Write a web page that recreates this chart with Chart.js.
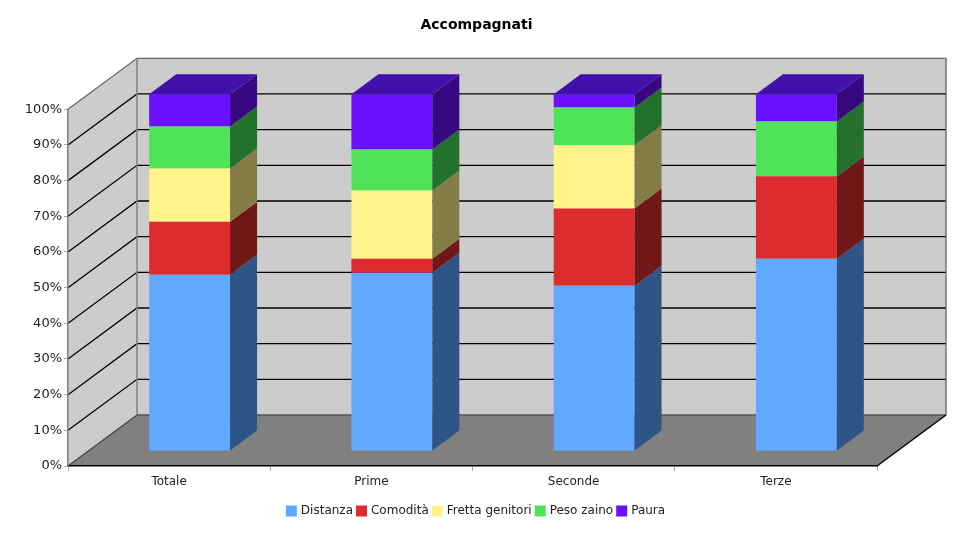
<!DOCTYPE html>
<html>
<head>
<meta charset="utf-8">
<title>Accompagnati</title>
<script src="https://cdn.jsdelivr.net/npm/chart.js@4/dist/chart.umd.min.js"></script>
<style>
  html, body { margin: 0; padding: 0; background: #fff; }
  canvas { display: block; }
</style>
</head>
<body>
<canvas id="statsChart" width="973" height="537"></canvas>
<script>
const categories = ['Totale', 'Prime', 'Seconde', 'Terze'];
const seriesNames = ['Distanza', 'Comodità', 'Fretta genitori', 'Peso zaino', 'Paura'];

const distanza = [49.4, 50.0, 46.3, 53.9];
const comodita = [14.9, 3.9, 21.7, 23.1];
const fretta = [14.9, 19.1, 17.7, 0];
const peso = [11.8, 11.5, 10.6, 15.4];
const paura = [9.0, 15.5, 3.7, 7.6];

const frontColors = ['#62a8ff', '#dd2c2f', '#fff38a', '#4fe35a', '#6a10ff'];
const sideColors = ['#2f5486', '#701717', '#847d48', '#24702d', '#37087f'];
const topColors = ['#3c6cab', '#8e1c1e', '#a89e58', '#2f8f39', '#4210aa'];

// fake 3d: the box behind the plot and the offset of the bars inside it
const wall = { dx: 69, dy: -51 };
const barShift = { dx: 20.5, dy: -15 };
const barDepth = { dx: 27, dy: -20 };

const allSeries = [distanza, comodita, fretta, peso, paura];

function poly(ctx, pts, fill) {
  ctx.beginPath();
  pts.forEach((p, i) => (i ? ctx.lineTo(p[0], p[1]) : ctx.moveTo(p[0], p[1])));
  ctx.closePath();
  ctx.fillStyle = fill;
  ctx.fill();
}

function line(ctx, pts, color, lineWidth) {
  ctx.beginPath();
  pts.forEach((p, i) => (i ? ctx.lineTo(p[0], p[1]) : ctx.moveTo(p[0], p[1])));
  ctx.strokeStyle = color;
  ctx.lineWidth = lineWidth;
  ctx.stroke();
}

const box3d = {
  id: 'box3d',
  beforeDraw(chart) {
    const { ctx, chartArea: a, scales } = chart;
    const bx = a.left + wall.dx, rx = a.right + wall.dx, dy = wall.dy;
    ctx.save();
    ctx.fillStyle = '#fff';
    ctx.fillRect(0, 0, chart.width, chart.height);
    // back wall, side wall, floor
    poly(ctx, [[bx, a.top + dy], [rx, a.top + dy], [rx, a.bottom + dy], [bx, a.bottom + dy]], '#cccccc');
    poly(ctx, [[a.left, a.top], [bx, a.top + dy], [bx, a.bottom + dy], [a.left, a.bottom]], '#cccccc');
    poly(ctx, [[a.left, a.bottom], [bx, a.bottom + dy], [rx, a.bottom + dy], [a.right, a.bottom]], '#808080');
    // grid lines come from the y ticks
    scales.y.ticks.forEach((t) => {
      if (t.value === 0 || t.value === 100) return;
      const y = scales.y.getPixelForValue(t.value);
      line(ctx, [[a.left, y], [bx, y + dy], [rx, y + dy]], '#000', 1.3);
    });
    line(ctx, [[a.left, a.top], [bx, a.top + dy], [rx, a.top + dy], [rx, a.bottom + dy]], '#666', 1.3);
    line(ctx, [[bx, a.top + dy], [bx, a.bottom + dy]], '#808080', 1.5);
    line(ctx, [[bx, a.bottom + dy], [rx, a.bottom + dy]], '#555', 1.3);
    line(ctx, [[a.left, a.bottom], [bx, a.bottom + dy]], '#444', 1.2);
    line(ctx, [[a.right, a.bottom], [rx, a.bottom + dy]], '#000', 1.5);
    ctx.restore();
  },
  beforeDatasetsDraw(chart) {
    chart.ctx.save();
    chart.ctx.translate(barShift.dx, barShift.dy);
  },
  afterDatasetsDraw(chart) {
    const ctx = chart.ctx;
    const d = barDepth;
    categories.forEach((c, i) => {
      let last = null;
      allSeries.forEach((s, k) => {
        const bar = chart.getDatasetMeta(k).data[i];
        if (!s[i]) return;
        const right = bar.x + bar.width / 2;
        poly(ctx, [[right, bar.y], [right + d.dx, bar.y + d.dy], [right + d.dx, bar.base + d.dy], [right, bar.base]], sideColors[k]);
        last = { bar, k };
      });
      // lid of the column, taken from the top segment
      const { bar, k } = last;
      const l = bar.x - bar.width / 2, r = bar.x + bar.width / 2;
      poly(ctx, [[l, bar.y], [l + d.dx, bar.y + d.dy], [r + d.dx, bar.y + d.dy], [r, bar.y]], topColors[k]);
    });
    ctx.restore();
  }
};

const font = { family: '"DejaVu Sans", Verdana, sans-serif', size: 12 };

new Chart(document.getElementById('statsChart'), {
  type: 'bar',
  plugins: [box3d],
  data: {
    labels: categories,
    datasets: seriesNames.map((name, k) => ({
      label: name,
      data: allSeries[k],
      backgroundColor: frontColors[k],
      borderWidth: 0,
      categoryPercentage: 1,
      barPercentage: 0.4,
      clip: false
    }))
  },
  options: {
    responsive: false,
    animation: false,
    layout: { padding: { left: 0, right: 20, top: 0, bottom: 10 } },
    plugins: {
      tooltip: { enabled: false },
      title: {
        display: true,
        text: 'Accompagnati',
        color: '#000',
        font: { family: font.family, size: 14, weight: 'bold' },
        padding: { top: 17, bottom: 75.5 }
      },
      legend: {
        position: 'bottom',
        labels: {
          color: '#222',
          font,
          boxWidth: 7,
          boxHeight: 7,
          padding: 5,
          // small box + thick stroke: keeps the swatch close to its text
          generateLabels(chart) {
            return Chart.defaults.plugins.legend.labels.generateLabels(chart).map((l) => ({ ...l, lineWidth: 4, strokeStyle: l.fillStyle }));
          }
        }
      }
    },
    scales: {
      x: {
        stacked: true,
        grid: { drawOnChartArea: false, drawTicks: true, tickLength: 5, tickColor: '#aaaaaa' },
        border: { color: '#000', width: 1.5 },
        ticks: { color: '#222', font, padding: 4, maxRotation: 0 },
        afterFit(s) { s.height = 34; }
      },
      y: {
        stacked: true,
        min: 0,
        max: 100,
        grid: { drawOnChartArea: false, drawTicks: true, tickLength: 4, tickColor: '#aaaaaa' },
        border: { color: '#808080', width: 1.5 },
        ticks: { stepSize: 10, color: '#222', font: { family: font.family, size: 13 }, padding: 2, callback: (v) => `${v}%` },
        afterFit(s) { s.width = 68; }
      },
      // empty axis, only holds the plot away from the right edge
      gutter: {
        type: 'linear',
        position: 'right',
        grid: { display: false },
        border: { display: false },
        ticks: { display: false },
        afterFit(s) { s.width = 76; }
      }
    }
  }
});
</script>
</body>
</html>
